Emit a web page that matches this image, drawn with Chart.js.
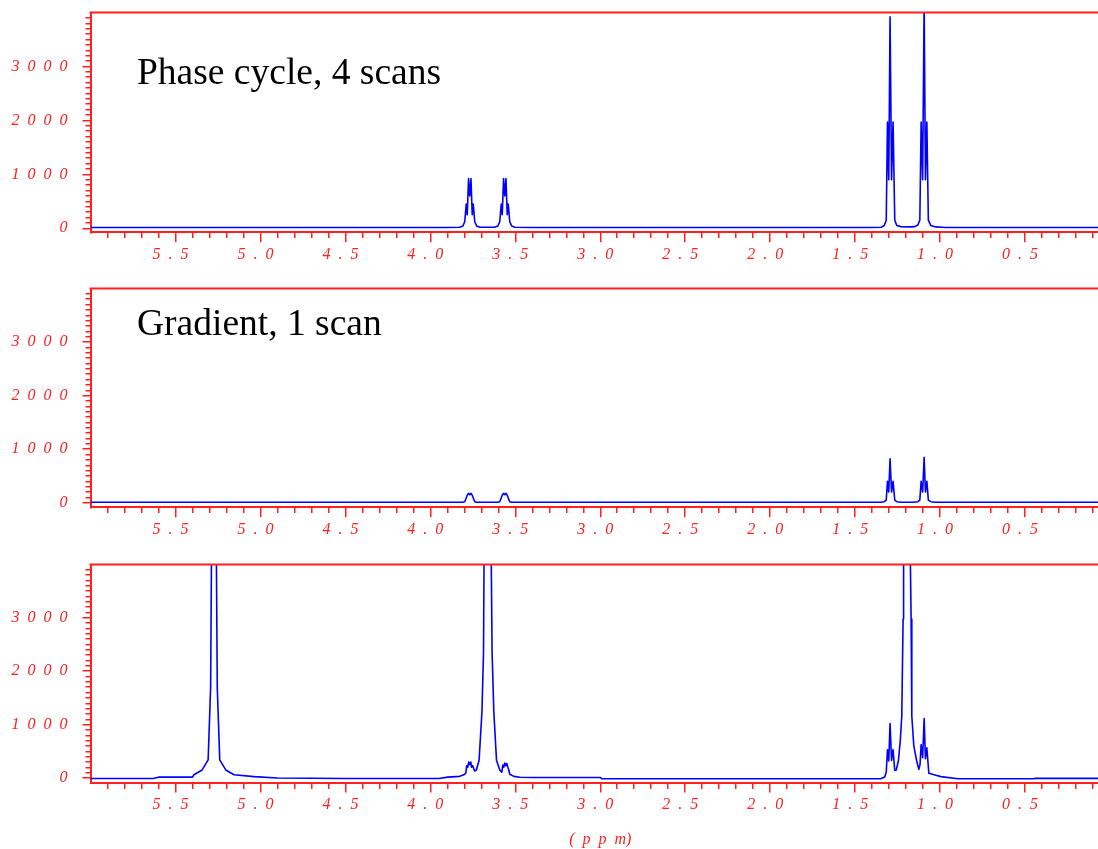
<!DOCTYPE html>
<html>
<head>
<meta charset="utf-8">
<script src="https://cdn.jsdelivr.net/npm/chart.js@4/dist/chart.umd.min.js"></script>
<style>
  html, body { margin: 0; padding: 0; background: #fff; overflow: hidden; width: 1098px; height: 849px; }
  .panel { position: absolute; left: 0; }
</style>
</head>
<body>
<div class="panel" style="top:0px"><canvas id="phase" width="1110" height="276" style="width:1110px;height:276px"></canvas></div>
<div class="panel" style="top:276px"><canvas id="gradient" width="1110" height="276" style="width:1110px;height:276px"></canvas></div>
<div class="panel" style="top:552px"><canvas id="reference" width="1110" height="297" style="width:1110px;height:297px"></canvas></div>
<script>
// ---- tick labels ----
const ppmTickValues = [5.5, 5.0, 4.5, 4.0, 3.5, 3.0, 2.5, 2.0, 1.5, 1.0, 0.5];
const intensityTickValues = [0, 1000, 2000, 3000];

// ---- phase-cycled 13C-filtered spectrum, 4 scans ----
const phasePpm = [
  6.00, 3.90, 3.827, 3.809, 3.7975, 3.7887, 3.7828, 3.7751, 3.768, 3.7609, 3.7533, 3.7474, 3.7385, 3.7267, 3.709,
  3.621, 3.603, 3.5915, 3.5827, 3.5768, 3.5691, 3.562, 3.5549, 3.5473, 3.5414, 3.5325, 3.5207, 3.503, 3.40,
  1.40, 1.3463, 1.3286, 1.3168, 1.3097, 1.3021, 1.2944, 1.2855, 1.2767, 1.2667, 1.2549, 1.2313,
  1.17, 1.1487, 1.1310, 1.1192, 1.1115, 1.1027, 1.0938, 1.0862, 1.0779, 1.0690, 1.0543, 1.0248, 0.9658, 0.00
];
const phaseIntensity = [
  15, 15, 20, 40, 120, 450, 250, 920, 600, 920, 250, 450, 120, 40, 20,
  20, 40, 120, 450, 250, 920, 600, 920, 250, 450, 120, 40, 20, 15,
  15, 20, 50, 150, 1970, 900, 3920, 900, 1970, 150, 50, 30,
  25, 30, 60, 150, 1970, 900, 4200, 900, 1970, 150, 50, 25, 15, 15
];

// ---- gradient-selected spectrum, 1 scan ----
const gradientPpm = [
  6.00, 3.85, 3.809, 3.7975, 3.7887, 3.7828, 3.7751, 3.768, 3.7609, 3.7533, 3.7474, 3.7385, 3.7267,
  3.603, 3.5915, 3.5827, 3.5768, 3.5691, 3.562, 3.5549, 3.5473, 3.5414, 3.5325, 3.5207,
  1.35, 1.3286, 1.3168, 1.3097, 1.3021, 1.2944, 1.2855, 1.2767, 1.2667, 1.2549, 1.23,
  1.16, 1.1310, 1.1192, 1.1115, 1.1027, 1.0938, 1.0862, 1.0779, 1.0690, 1.0543, 1.03, 0.00
];
const gradientIntensity = [
  10, 10, 12, 20, 90, 140, 175, 150, 175, 140, 90, 20, 10,
  10, 20, 90, 140, 175, 150, 175, 140, 90, 20, 10,
  10, 20, 50, 400, 200, 820, 200, 400, 50, 20, 10,
  10, 20, 50, 400, 200, 850, 200, 400, 50, 20, 10, 10
];

// ---- unfiltered 1H spectrum ----
const fullPpm = [
  6.00, 5.63, 5.60, 5.40, 5.3915, 5.3431, 5.3077, 5.2930, 5.2883, 5.2735, 5.2588, 5.2540, 5.2393, 5.2039, 5.1555, 5.0375, 4.90, 4.50,
  3.95, 3.898, 3.827, 3.803, 3.791, 3.786, 3.780, 3.774, 3.768, 3.762, 3.757, 3.751, 3.739, 3.729, 3.713, 3.696, 3.687, 3.684,
  3.665, 3.6413, 3.6366, 3.6265, 3.6106, 3.5912, 3.5794, 3.5735, 3.5676, 3.5617, 3.5558, 3.5499, 3.5440, 3.5381, 3.5322, 3.5086, 3.4732,
  3.40, 3.00, 2.99, 1.35,
  1.3257, 1.3168, 1.3097, 1.3021, 1.2944, 1.2855, 1.2767, 1.2667, 1.2578, 1.2448, 1.2342, 1.2254, 1.2177, 1.2148,
  1.1947, 1.1746, 1.1705, 1.1664, 1.1546, 1.1386, 1.1251, 1.1180, 1.1115, 1.1027, 1.0938, 1.0862, 1.0779, 1.0661,
  1.0248, 0.9953, 0.8950, 0.45, 0.44, 0.00
];
const fullIntensity = [
  -10, -10, 15, 15, 60, 150, 340, 1700, 4000, 8000, 4000, 1700, 340, 150, 60, 25, 0, -10,
  -10, 15, 30, 60, 90, 230, 200, 300, 250, 300, 200, 230, 130, 148, 332, 1255, 2360, 4000,
  9000, 4000, 2360, 1255, 332, 148, 110, 240, 200, 280, 230, 270, 200, 150, 70, 30, 12,
  10, 10, -15, -15,
  20, 110, 530, 320, 1020, 330, 530, 140, 150, 332, 700, 1162, 2977, 4000,
  9000, 4000, 2977, 1162, 600, 332, 160, 250, 627, 380, 1112, 360, 566, 87,
  50, 25, -15, -15, -8, -8
];

// ---- styling ----
const RED = '#ff2020';
const BLUE = '#0000ff';
const TICK_FONT = { family: '"Liberation Serif", "DejaVu Serif", serif', style: 'italic', size: 16 };
const spaced = v => String(v).split('').join('  ');
const tenths = v => Math.round(v * 10);
const HIDDEN = 'rgba(0,0,0,0)';

// top edge of the plotting frame
const topFrame = {
  id: 'topFrame',
  afterDraw(chart) {
    const { ctx, chartArea: a } = chart;
    ctx.save();
    ctx.strokeStyle = RED;
    ctx.lineWidth = 2;
    ctx.beginPath();
    ctx.moveTo(a.left - 1, a.top);
    ctx.lineTo(a.right, a.top);
    ctx.stroke();
    ctx.restore();
  }
};

// panel caption written inside the plot
const panelTitle = {
  id: 'panelTitle',
  afterDraw(chart, args, opts) {
    if (!opts || !opts.text) return;
    const ctx = chart.ctx;
    ctx.save();
    ctx.font = '37.5px "Liberation Serif", "Times New Roman", serif';
    ctx.fillStyle = '#000';
    ctx.textBaseline = 'alphabetic';
    ctx.textAlign = 'left';
    ctx.fillText(opts.text, opts.x, opts.y);
    ctx.restore();
  }
};

function makeSpectrum(canvasId, ppm, intensity, cfg) {
  const points = ppm.map((x, i) => ({ x: x, y: intensity[i] }));
  return new Chart(document.getElementById(canvasId), {
    type: 'line',
    data: {
      datasets: [{
        data: points,
        borderColor: BLUE,
        borderWidth: 1.6,
        borderJoinStyle: 'round',
        pointRadius: 0,
        tension: 0,
        fill: false
      }]
    },
    plugins: [topFrame, panelTitle],
    options: {
      responsive: false,
      animation: false,
      events: [],
      layout: { padding: { top: 12.5, left: 0, right: 0, bottom: 0 } },
      plugins: {
        legend: { display: false },
        tooltip: { enabled: false },
        panelTitle: cfg.title || {}
      },
      scales: {
        x: {
          type: 'linear',
          reverse: true,
          min: 0,
          max: 6,
          position: 'bottom',
          afterFit: s => { s.height = cfg.xAxisHeight; s.paddingLeft = 0; s.paddingRight = 0; },
          border: { display: true, color: RED, width: 2 },
          grid: {
            display: true,
            drawOnChartArea: false,
            drawTicks: true,
            tickLength: 10,
            lineWidth: 1.5,
            color: c => {
              if (!c.tick) return RED;
              const t = tenths(c.tick.value);
              return (t <= 0 || t >= 60) ? HIDDEN : RED;
            },
            tickBorderDash: c => (c.tick && tenths(c.tick.value) % 5 === 0) ? [] : [5, 50]
          },
          ticks: {
            stepSize: 0.1,
            maxTicksLimit: 1000,
            includeBounds: false,
            autoSkip: false,
            maxRotation: 0,
            minRotation: 0,
            padding: 3,
            labelOffset: -5,
            color: RED,
            font: TICK_FONT,
            callback: v => {
              const hit = ppmTickValues.find(p => tenths(p) === tenths(v));
              return hit === undefined ? '' : spaced(hit.toFixed(1));
            }
          },
          title: cfg.xTitle ? {
            display: true,
            text: cfg.xTitle,
            color: RED,
            font: TICK_FONT,
            padding: { top: 5, bottom: 0 }
          } : { display: false }
        },
        y: {
          type: 'linear',
          min: cfg.yMin,
          max: 4000,
          position: 'left',
          afterFit: s => { s.width = 90.5; s.paddingTop = 0; s.paddingBottom = 0; },
          border: { display: true, color: RED, width: 2 },
          grid: {
            display: true,
            drawOnChartArea: false,
            drawTicks: true,
            tickLength: 8,
            lineWidth: 1.5,
            color: c => {
              if (!c.tick) return RED;
              const v = Math.round(c.tick.value);
              return (v < 0 || v >= 4000 || v % 100 !== 0) ? HIDDEN : RED;
            },
            tickBorderDash: c => (c.tick && Math.round(c.tick.value) % 1000 === 0) ? [] : [0, 3, 10, 0]
          },
          ticks: {
            stepSize: 100,
            maxTicksLimit: 1000,
            includeBounds: false,
            autoSkip: false,
            padding: 15,
            color: RED,
            font: TICK_FONT,
            callback: v => intensityTickValues.includes(Math.round(v)) ? spaced(Math.round(v)) : ''
          }
        }
      }
    }
  });
}

makeSpectrum('phase', phasePpm, phaseIntensity, {
  yMin: -75, xAxisHeight: 43.7,
  title: { text: 'Phase cycle, 4 scans', x: 137, y: 84 }
});
makeSpectrum('gradient', gradientPpm, gradientIntensity, {
  yMin: -85, xAxisHeight: 44.7,
  title: { text: 'Gradient, 1 scan', x: 137, y: 58.5 }
});
makeSpectrum('reference', fullPpm, fullIntensity, {
  yMin: -85, xAxisHeight: 66.5,
  xTitle: '(  p  p  m)'
});
</script>
</body>
</html>
